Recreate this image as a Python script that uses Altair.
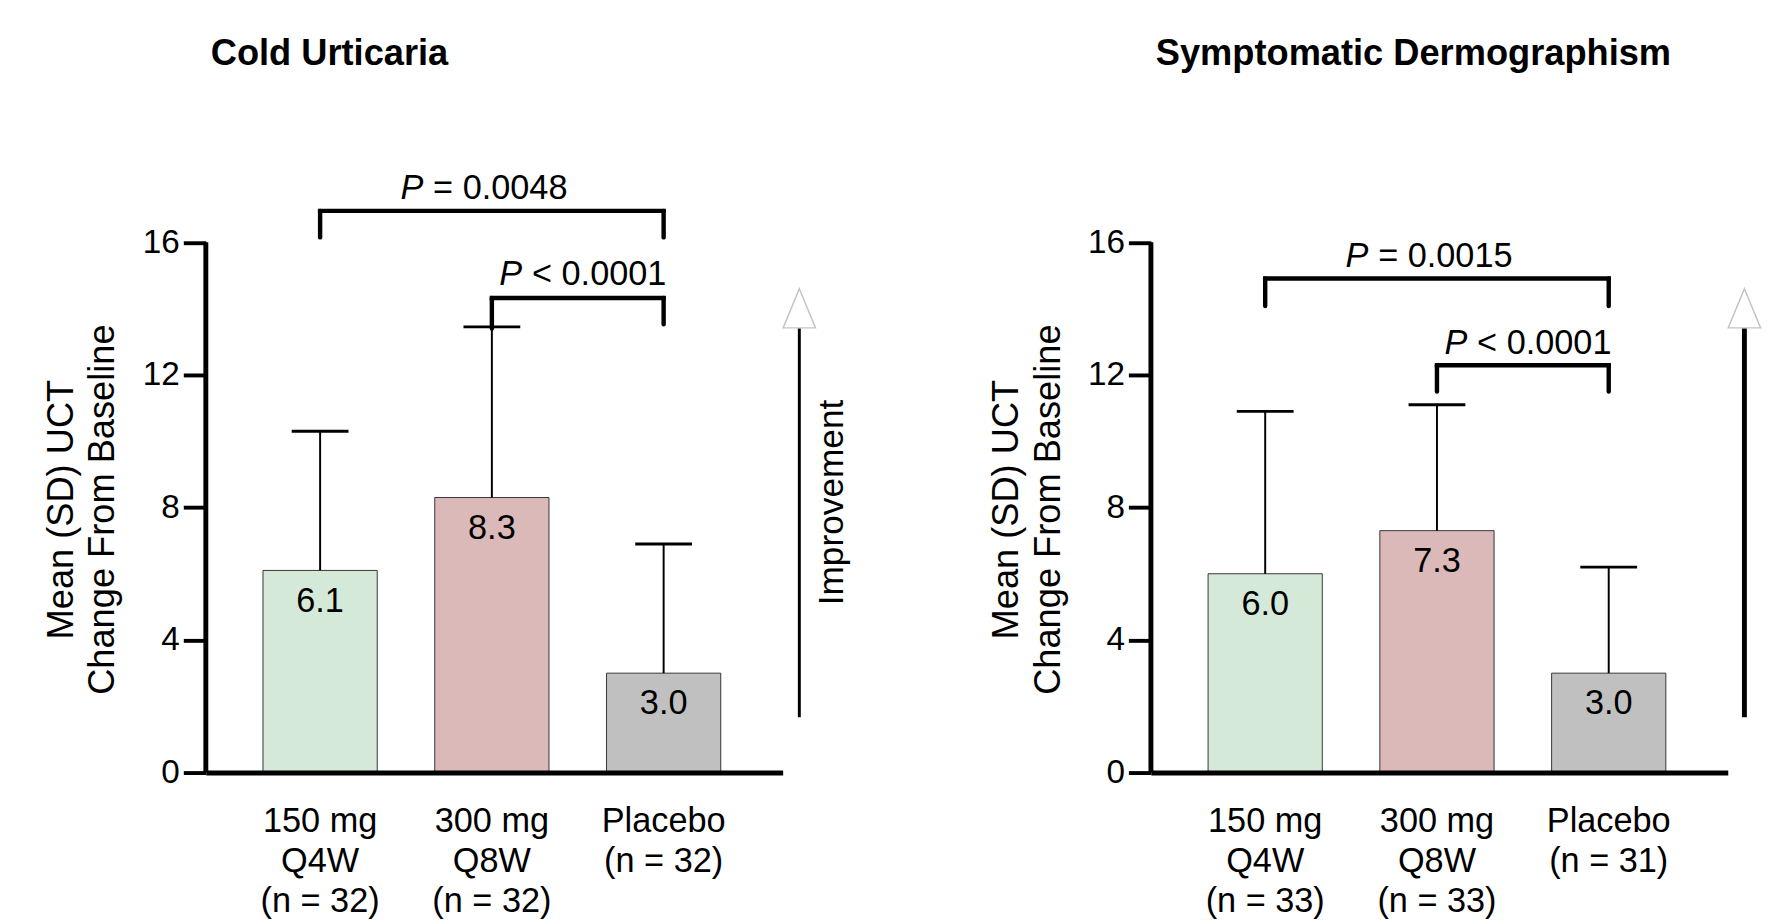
import altair as alt
import pandas as pd

FONT = "Liberation Sans"

# ---------------- data ----------------
cu_groups = ["150 mg\nQ4W\n(n = 32)", "300 mg\nQ8W\n(n = 32)", "Placebo\n(n = 32)"]
cu_means = [6.1, 8.3, 3.0]
cu_sds = [4.2, 5.15, 3.9]
cu_labels = ["6.1", "8.3", "3.0"]
cu_br_from = [0, 1]
cu_br_to = [2, 2]
cu_br_level = [16.95, 14.32]
cu_br_low_from = [16.15, 13.4]
cu_br_low_to = [16.15, 13.53]
cu_p_rest = ["= 0.0048", "< 0.0001"]
cu_p_base = [17.31, 14.72]

sd_groups = ["150 mg\nQ4W\n(n = 33)", "300 mg\nQ8W\n(n = 33)", "Placebo\n(n = 31)"]
sd_means = [6.0, 7.3, 3.0]
sd_sds = [4.9, 3.8, 3.2]
sd_labels = ["6.0", "7.3", "3.0"]
sd_br_from = [0, 1]
sd_br_to = [2, 2]
sd_br_level = [14.91, 12.29]
sd_br_low_from = [14.08, 11.5]
sd_br_low_to = [14.08, 11.5]
sd_p_rest = ["= 0.0015", "< 0.0001"]
sd_p_base = [15.26, 12.64]

y_ticks = [0, 4, 8, 12, 16]
y_axis_top = 16
arrow_low = 1.67
arrow_high = 13.41
arrow_head = 14.01
improvement_y = 8.15

bar_colors = ["#d5e9d9", "#dcb9b9", "#c0c0c0"]

# ---------------- style ----------------
P_DX = [-70, 31]
ARROW_X = 606
IMP_X = 640
W, H = 589, 626
Y_MAX = 18.5
TXT = 35


def panel(title, groups, means, sds, labels, br_from, br_to, br_level,
          br_low_from, br_low_to, p_rest, p_base, arrow_width, show_imp):
    xscale = alt.Scale(domain=groups, paddingInner=0.335, paddingOuter=0.3467, align=0.48)
    xaxis = alt.Axis(title=None, domain=True, domainColor="black", domainWidth=5,
                     ticks=False, tickSize=0, labelFontSize=TXT, labelFont=FONT,
                     labelColor="black", labelPadding=32, labelLineHeight=41,
                     labelExpr="split(datum.label, '\\n')", labelAngle=0,
                     labelOverlap=False, zindex=1)
    yscale = alt.Scale(domain=[0, Y_MAX], nice=False, zero=False)
    yaxis = alt.Axis(title=["Mean (SD) UCT", "Change From Baseline"], values=y_ticks,
                     domain=False, grid=False, ticks=True, tickSize=23, tickWidth=4,
                     tickColor="black", labelFontSize=34, labelFont=FONT,
                     labelColor="black", labelPadding=4, titleFont=FONT,
                     titleFontSize=37, titleFontWeight="normal", titleColor="black",
                     titleLineHeight=42, titlePadding=21, titleY=357, format="d",
                     zindex=1)

    def X(f):
        return alt.X(f"{f}:N", scale=xscale, axis=xaxis)

    def Y(f):
        return alt.Y(f"{f}:Q", scale=yscale, axis=yaxis)

    bar_df = pd.DataFrame({
        "group": groups,
        "mean": means,
        "top": [round(m + s, 3) for m, s in zip(means, sds)],
        "label": labels,
        "color": bar_colors,
        "zero": [0] * len(groups),
    })
    base = alt.Chart(bar_df)
    bars = base.mark_bar(stroke="#333333", strokeWidth=1).encode(
        x=X("group"), y=Y("mean"), y2="zero:Q", color=alt.Color("color:N", scale=None))
    errs = base.mark_rule(strokeWidth=2, color="black").encode(
        x=X("group"), y=Y("mean"), y2="top:Q")
    caps = base.mark_tick(size=58, thickness=3, color="black", orient="horizontal",
                          opacity=1).encode(x=X("group"), y=Y("top"))
    vals = base.mark_text(font=FONT, fontSize=TXT, baseline="alphabetic", dy=42,
                          color="black").encode(x=X("group"), y=Y("mean"), text="label:N")

    br_df = pd.DataFrame({
        "g_from": [groups[i] for i in br_from],
        "g_to": [groups[i] for i in br_to],
        "level": br_level,
    })
    hbr = alt.Chart(br_df).mark_rule(strokeWidth=4.5, color="black", strokeCap="square").encode(
        x=X("g_from"), x2="g_to:N", y=Y("level"))
    leg_df = pd.DataFrame({
        "group": [groups[i] for i in br_from] + [groups[i] for i in br_to],
        "low": list(br_low_from) + list(br_low_to),
        "level": list(br_level) * 2,
    })
    legs = alt.Chart(leg_df).mark_rule(strokeWidth=4.5, color="black", strokeCap="round").encode(
        x=X("group"), y=Y("low"), y2="level:Q")

    layers = [bars, errs, caps, vals, hbr, legs]
    for k in range(len(p_rest)):
        d = pd.DataFrame({"group": [groups[1]], "base": [p_base[k]], "rest": [p_rest[k]]})
        c = alt.Chart(d)
        layers.append(c.mark_text(font=FONT, fontSize=TXT, fontStyle="italic", align="right",
                                  baseline="alphabetic", dx=P_DX[k], color="black").encode(
            x=X("group"), y=Y("base"), text=alt.value("P")))
        layers.append(c.mark_text(font=FONT, fontSize=TXT, align="left", baseline="alphabetic",
                                  dx=P_DX[k] + 10, color="black").encode(
            x=X("group"), y=Y("base"), text="rest:N"))

    a_df = pd.DataFrame({"zero": [0], "axis_top": [y_axis_top], "low": [arrow_low],
                         "high": [arrow_high], "head": [arrow_head], "imp": [improvement_y]})
    ac = alt.Chart(a_df)
    layers.append(ac.mark_rule(strokeWidth=5, color="black").encode(
        x=alt.value(0), y=Y("zero"), y2="axis_top:Q"))
    layers.append(ac.mark_rule(strokeWidth=arrow_width, color="black").encode(
        x=alt.value(ARROW_X), y=Y("low"), y2="high:Q"))
    layers.append(ac.mark_point(shape="M0,-1L0.825,1L-0.825,1Z", size=1600, fill="white",
                                stroke="#c4c4c4", strokeWidth=1.5, fillOpacity=1,
                                strokeOpacity=1, opacity=1).encode(
        x=alt.value(ARROW_X), y=Y("head")))
    if show_imp:
        layers.append(ac.mark_text(text="Improvement", angle=270, font=FONT, fontSize=36,
                                   baseline="middle", align="center", color="black").encode(
            x=alt.value(IMP_X), y=Y("imp")))

    return alt.layer(*layers).properties(
        width=W, height=H,
        title=alt.TitleParams(text=title, anchor="start", frame="group", dx=5, offset=60,
                              baseline="alphabetic", fontSize=37, fontWeight="bold",
                              font=FONT, color="black"),
    )


left = panel("Cold Urticaria", cu_groups, cu_means, cu_sds, cu_labels, cu_br_from, cu_br_to,
             cu_br_level, cu_br_low_from, cu_br_low_to, cu_p_rest, cu_p_base, 3, True)
right = panel("Symptomatic Dermographism", sd_groups, sd_means, sd_sds, sd_labels, sd_br_from,
              sd_br_to, sd_br_level, sd_br_low_from, sd_br_low_to, sd_p_rest, sd_p_base, 5, False)

chart = alt.hconcat(left, right, spacing=376, bounds="flush").configure_view(
    stroke=None).properties(
    padding={"left": 36, "top": 18, "right": 0, "bottom": 0}, background="white")

chart.save("out.html", embed_options={"renderer": "svg", "actions": False})
